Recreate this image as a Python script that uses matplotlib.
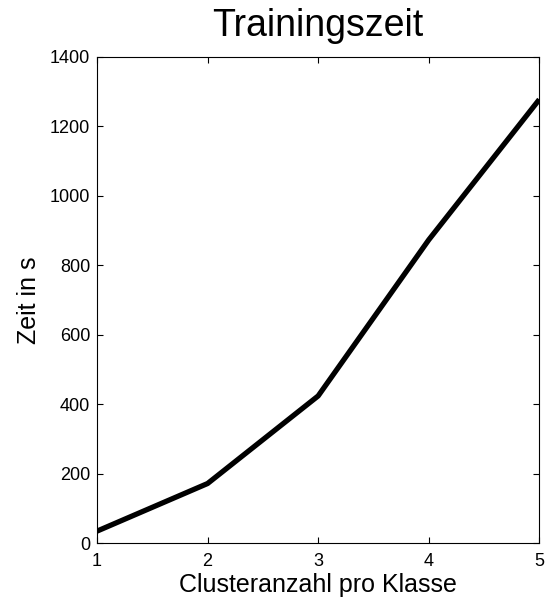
import matplotlib
matplotlib.use("Agg")
import matplotlib.pyplot as plt

plt.rcParams['font.family'] = ['Liberation Sans', 'DejaVu Sans']

clusters = [1, 2, 3, 4, 5]
zeit = [35, 172, 424, 873, 1277]
xticks = [1, 2, 3, 4, 5]
yticks = [0, 200, 400, 600, 800, 1000, 1200, 1400]

fig = plt.figure(figsize=(5.48, 6.01), dpi=100)
ax = fig.add_axes([97/548, 1-543.3/601, (539.3-97)/548, (543.3-56.7)/601])
ax.plot(clusters, zeit, color='black', linewidth=3.8, solid_capstyle='butt')
ax.set_xlim(1, 5)
ax.set_ylim(0, 1400)
ax.set_xticks(xticks)
ax.set_yticks(yticks)
ax.tick_params(direction='in', top=True, right=True, length=4, width=0.8, labelsize=13, pad=5)
ax.tick_params(axis='x', pad=7)
for s in ax.spines.values():
    s.set_linewidth(0.8)
ax.set_title('Trainingszeit', fontsize=27, pad=15)
ax.set_xlabel('Clusteranzahl pro Klasse', fontsize=18, labelpad=2)
ax.set_ylabel('Zeit in s', fontsize=18, labelpad=6)
fig.savefig('out.png', dpi=100)
